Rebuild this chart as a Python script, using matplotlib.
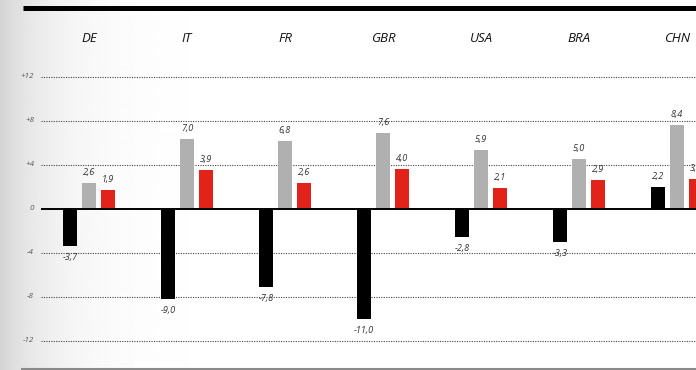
import numpy as np
import matplotlib
matplotlib.use("Agg")
import matplotlib.pyplot as plt
from matplotlib.lines import Line2D

plt.rcParams['font.family'] = ['Open Sans', 'DejaVu Sans']

countries = ["DE", "IT", "FR", "GBR", "USA", "BRA", "CHN"]
series_black = [-3.7, -9.0, -7.8, -11.0, -2.8, -3.3, 2.2]
series_gray = [2.6, 7.0, 6.8, 7.6, 5.9, 5.0, 8.4]
series_red = [1.9, 3.9, 2.6, 4.0, 2.1, 2.9, 3.0]
tick_values = [-12, -8, -4, 0, 4, 8, 12]
tick_labels = ["-12", "-8", "-4", "0", "+4", "+8", "+12"]

W, H, DPI = 696, 370, 100
fig = plt.figure(figsize=(W / DPI, H / DPI), dpi=DPI)

# soft grey shading on the left edge of the page
bg = fig.add_axes([0, 0, 1, 1], zorder=-10)
bg.set_axis_off()
px = np.arange(W)
shade = 1 - 0.17 * np.exp(-px / 50.0)
img = np.tile(shade, (10, 1))
bg.imshow(img, cmap="gray", vmin=0, vmax=1, aspect="auto",
          extent=[0, 1, 0, 1], interpolation="bilinear")
bg.set_xlim(0, 1)
bg.set_ylim(0, 1)

# plotting area: zero line at y=209 px, 10 px per unit, groups 98 px apart
left_px, right_px = 41, W
top_px, bot_px = 60, 360
zero_px, px_per_unit = 209, 10.0
group_px0, group_step = 89, 98.0

ax = fig.add_axes([left_px / W, 1 - bot_px / H, (right_px - left_px) / W,
                   (bot_px - top_px) / H])
ax.patch.set_alpha(0)
ax.set_xlim((left_px - group_px0) / group_step, (right_px - group_px0) / group_step)
ax.set_ylim(-(bot_px - zero_px) / px_per_unit, (zero_px - top_px) / px_per_unit)

x = np.arange(len(countries))
bw = 14 / group_step
off = 19 / group_step

ax.bar(x - off, series_black, bw, color="#000000", zorder=3)
ax.bar(x, series_gray, bw, color="#b0b0b0", zorder=3)
ax.bar(x + off, series_red, bw, color="#e2231a", zorder=3)

# grid lines on the printed scale
grid_scale = 1.1
for v in tick_values:
    y = v * grid_scale
    if v == 0:
        ax.axhline(0, color="black", lw=1.4, zorder=4)
    else:
        ax.axhline(y, color="#444444", lw=0.8, ls=(0, (1, 1.2)), zorder=1)

for v, lab in zip(tick_values, tick_labels):
    fig.text(34 / W, 1 - (zero_px - v * grid_scale * px_per_unit) / H, lab,
             ha="right", va="center", fontsize=5.8, style="italic",
             color="#555555")

def fmt(v):
    return f"{v:.1f}".replace(".", ",")

for vals, dx in ((series_black, -off), (series_gray, 0), (series_red, off)):
    for xi, v in zip(x, vals):
        if v >= 0:
            ax.annotate(fmt(v), (xi + dx, v), xytext=(0, 4.2), textcoords="offset points",
                        ha="center", va="bottom", fontsize=6.6, style="italic",
                        color="#333333", annotation_clip=False)
        else:
            ax.annotate(fmt(v), (xi + dx, v), xytext=(0, -5.2), textcoords="offset points",
                        ha="center", va="top", fontsize=6.6, style="italic",
                        color="#333333", annotation_clip=False)

for xi, name in zip(x, countries):
    fig.text((group_px0 + xi * group_step) / W, 1 - 39 / H, name,
             ha="center", va="center", fontsize=9.5, style="italic", color="#111111")

ax.set_axis_off()

# heavy rule at the top and thin rule at the bottom of the panel
fig.add_artist(Line2D([23 / W, 1], [1 - 7.5 / H, 1 - 7.5 / H], color="black",
                      lw=3.6, transform=fig.transFigure, solid_capstyle="butt"))
fig.add_artist(Line2D([21 / W, 1], [1 - 368.5 / H, 1 - 368.5 / H], color="#8a8a8a",
                      lw=1.5, transform=fig.transFigure, solid_capstyle="butt"))

fig.savefig("out.png", dpi=DPI)
